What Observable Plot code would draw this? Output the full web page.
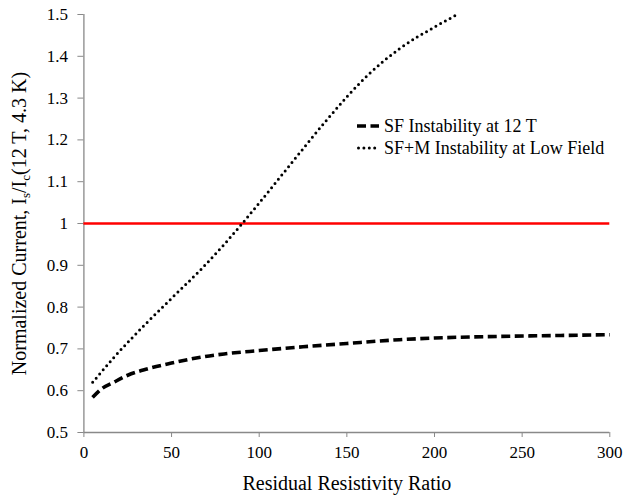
<!DOCTYPE html>
<html>
<head>
<meta charset="utf-8">
<script src="https://cdn.jsdelivr.net/npm/d3@7"></script>
<script src="https://cdn.jsdelivr.net/npm/@observablehq/plot@0.6"></script>
<style>
  html, body { margin: 0; padding: 0; background: #fff; }
  #wrap { position: relative; width: 624px; height: 498px; }
  #wrap, #wrap svg, #wrap svg text, #legend { font-family: "Liberation Serif", "Times New Roman", serif !important; }
  #legend { position: absolute; left: 357px; top: 115px; font-size: 18px; color: #000; }
  #legend .row { display: flex; align-items: center; height: 22px; white-space: nowrap; }
  #legend svg { margin-right: 5px; }
</style>
</head>
<body>
<div id="wrap"><div id="legend"></div></div>
<script>
// Series 1: SF Instability at 12 T (dashed)
const sfRRR = [5, 10, 17, 25, 36, 50, 66.5, 80, 100, 125, 150, 180, 200, 238, 270, 300];
const sfCurrent = [0.584, 0.604, 0.620, 0.637, 0.652, 0.666, 0.680, 0.688, 0.696, 0.705, 0.713, 0.722, 0.726, 0.730, 0.732, 0.734];
// Series 2: SF+M Instability at Low Field (dotted)
const sfmRRR = [5, 17, 36, 50, 66.5, 80, 90.3, 100, 116, 139, 150, 162, 180, 200, 213];
const sfmCurrent = [0.620, 0.679, 0.763, 0.821, 0.889, 0.950, 1.000, 1.049, 1.132, 1.250, 1.303, 1.355, 1.418, 1.470, 1.500];
// Reference line
const refLevel = [1];
// Ticks
const xTicks = [0, 50, 100, 150, 200, 250, 300];
const yTicks = [0.5, 0.6, 0.7, 0.8, 0.9, 1.0, 1.1, 1.2, 1.3, 1.4, 1.5];
const seriesNames = ["SF Instability at 12 T", "SF+M Instability at Low Field"];

const sf = sfRRR.map((x, i) => ({x, y: sfCurrent[i]}));
const sfm = sfmRRR.map((x, i) => ({x, y: sfmCurrent[i]}));

const axisGray = "#898989";
const dashStyle = {stroke: "#000", strokeWidth: 3.6, strokeDasharray: "9,4.5", strokeLinecap: "butt"};
const dotStyle = {stroke: "#000", strokeWidth: 3, strokeDasharray: "0,5.4", strokeLinecap: "round"};

const chart = Plot.plot({
  width: 624,
  height: 498,
  marginLeft: 83.4,
  marginRight: 14.7,
  marginTop: 14,
  marginBottom: 66,
  style: {fontFamily: "'Liberation Serif', 'Times New Roman', serif", fontSize: "17px", background: "#fff", color: "#000"},
  x: {domain: [0, 300]},
  y: {domain: [0.5, 1.5]},
  marks: [
    Plot.axisX({ticks: xTicks, tickSize: 5, tickPadding: 8, stroke: axisGray, fill: "#000",
      label: "Residual Resistivity Ratio", labelAnchor: "center", labelOffset: 57, fontSize: 17}),
    Plot.axisY({ticks: yTicks, tickSize: 6, tickPadding: 10, stroke: axisGray, fill: "#000",
      tickFormat: d => String(+d.toFixed(1)),
      label: "Normalized Current", labelAnchor: "center", labelOffset: 72, labelArrow: "none", fontSize: 17}),
    Plot.ruleX([0], {stroke: axisGray, strokeWidth: 1.3}),
    Plot.ruleY([0.5], {stroke: axisGray, strokeWidth: 1.3}),
    Plot.ruleY(refLevel, {stroke: "#ff0000", strokeWidth: 2.6}),
    Plot.line(sfm, {x: "x", y: "y", curve: "monotone-x", ...dotStyle}),
    Plot.line(sf, {x: "x", y: "y", curve: "monotone-x", ...dashStyle})
  ]
});

document.getElementById("wrap").prepend(chart);

// Axis labels: restyle and add subscripts to y label
const svg = d3.select(chart);
svg.selectAll('g[aria-label="x-axis label"] text').attr("font-size", 20).text("Residual Resistivity Ratio");
const yl = svg.select('g[aria-label="y-axis label"] text');
yl.attr("font-size", 20).text(null);
yl.append("tspan").text("Normalized Current, I");
yl.append("tspan").attr("dy", 4).attr("font-size", 13).text("s");
yl.append("tspan").attr("dy", -4).text("/I");
yl.append("tspan").attr("dy", 4).attr("font-size", 13).text("c");
yl.append("tspan").attr("dy", -4).text("(12 T, 4.3 K)");

// Legend
const legend = d3.select("#legend");
[[seriesNames[0], dashStyle], [seriesNames[1], dotStyle]].forEach(([name, st]) => {
  const row = legend.append("div").attr("class", "row");
  const s = row.append("svg").attr("width", 22).attr("height", 10);
  s.append("line").attr("x1", st === dotStyle ? 1.5 : 0).attr("x2", 22).attr("y1", 5).attr("y2", 5)
    .attr("stroke", st.stroke).attr("stroke-width", st.strokeWidth)
    .attr("stroke-dasharray", st.strokeDasharray).attr("stroke-linecap", st.strokeLinecap);
  row.append("span").text(name);
});
</script>
</body>
</html>
